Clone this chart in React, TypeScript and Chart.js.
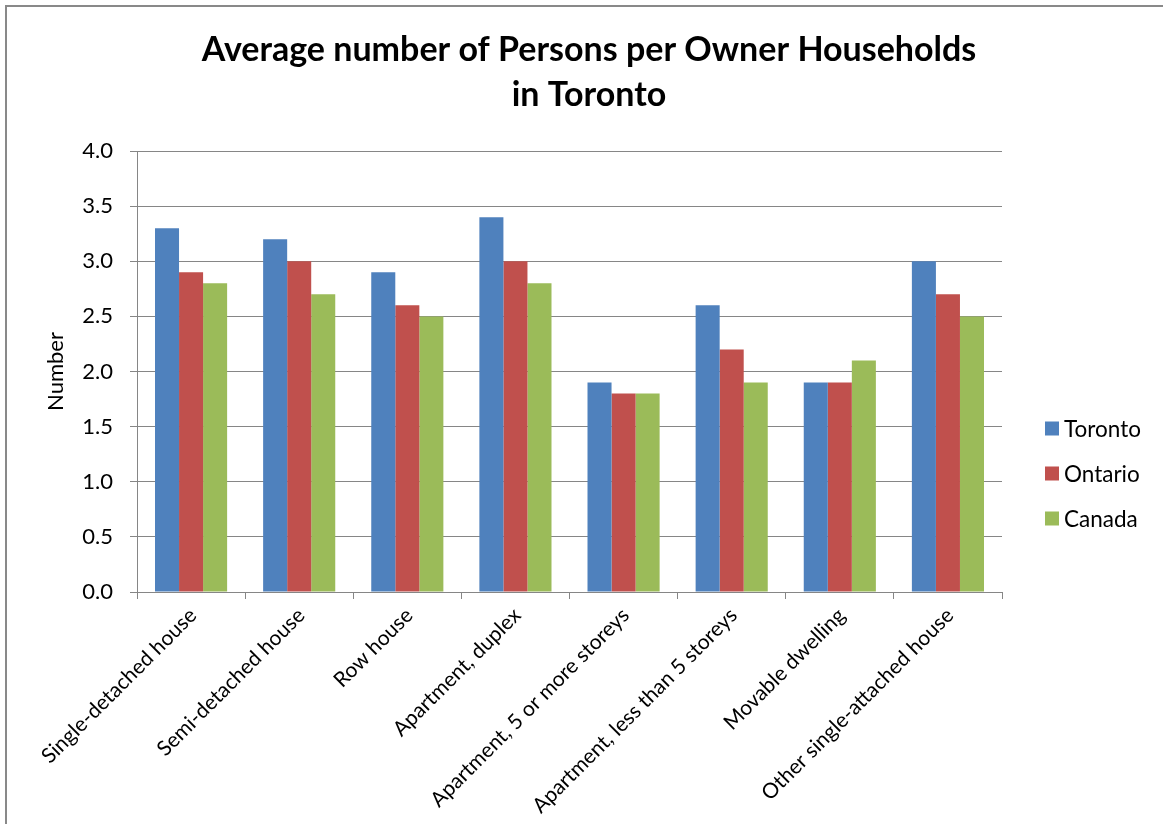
import React, { useEffect, useRef } from "react";
import { Chart, registerables } from "chart.js";

Chart.register(...registerables);

const categories = [
  "Single-detached house",
  "Semi-detached house",
  "Row house",
  "Apartment, duplex",
  "Apartment, 5 or more storeys",
  "Apartment, less than 5 storeys",
  "Movable dwelling",
  "Other single-attached house",
];

const toronto = [3.3, 3.2, 2.9, 3.4, 1.9, 2.6, 1.9, 3.0];
const ontario = [2.9, 3.0, 2.6, 3.0, 1.8, 2.2, 1.9, 2.7];
const canada = [2.8, 2.7, 2.5, 2.8, 1.8, 1.9, 2.1, 2.5];

const seriesNames = ["Toronto", "Ontario", "Canada"];
const seriesColors = ["#4F81BD", "#C0504D", "#9BBB59"];

const titleLines = ["Average number of Persons per Owner Households", "in Toronto"];
const yAxisTitle = "Number";

const FONT = "Lato, 'Open Sans', sans-serif";

const chromePlugin = {
  id: "chrome",
  afterDraw(chart: any) {
    const ctx = chart.ctx;
    ctx.save();
    // title
    ctx.fillStyle = "#000";
    ctx.font = `bold 34px ${FONT}`;
    ctx.textAlign = "center";
    ctx.textBaseline = "alphabetic";
    ctx.fillText(titleLines[0], 589, 61);
    ctx.fillText(titleLines[1], 589, 106);
    // legend
    const ys = [428.5, 473.5, 518.5];
    ctx.font = `22.5px ${FONT}`;
    ctx.textAlign = "left";
    ctx.textBaseline = "middle";
    chart.data.datasets.forEach((ds: any, i: number) => {
      ctx.fillStyle = ds.backgroundColor;
      ctx.fillRect(1045, ys[i] - 7, 14, 14);
      ctx.fillStyle = "#000";
      ctx.fillText(ds.label, 1064, ys[i] + 1);
    });
    ctx.restore();
  },
};

export default function App() {
  const ref = useRef<HTMLCanvasElement>(null);

  useEffect(() => {
    if (!ref.current) return;
    const chart = new Chart(ref.current, {
      type: "bar",
      data: {
        labels: categories,
        datasets: [toronto, ontario, canada].map((d, i) => ({
          label: seriesNames[i],
          data: d,
          backgroundColor: seriesColors[i],
          borderWidth: 0,
          categoryPercentage: 0.667,
          barPercentage: 1.0,
        })),
      },
      options: {
        animation: false,
        responsive: false,
        devicePixelRatio: 1,
        layout: { padding: { top: 151, left: 0, right: 161, bottom: 0 } },
        plugins: {
          legend: { display: false },
          title: { display: false },
          tooltip: { enabled: false },
        },
        scales: {
          x: {
            afterFit: (s: any) => {
              s.height = 232;
            },
            grid: {
              drawOnChartArea: false,
              drawTicks: true,
              tickLength: 7,
              color: "#868686",
              offset: true,
            },
            border: { color: "#868686", width: 1 },
            ticks: {
              color: "#000",
              font: { family: FONT, size: 21 },
              maxRotation: 45,
              minRotation: 45,
              autoSkip: false,
              padding: 4,
              labelOffset: 2,
            },
          },
          y: {
            min: 0,
            max: 4,
            afterFit: (s: any) => {
              s.width = 137;
            },
            ticks: {
              stepSize: 0.5,
              color: "#000",
              font: { family: FONT, size: 22 },
              padding: 17,
              callback: (v: any) => Number(v).toFixed(1),
            },
            grid: { color: "#868686", tickLength: 7, lineWidth: 1 },
            border: { color: "#868686", width: 1 },
            title: {
              display: true,
              text: yAxisTitle,
              color: "#000",
              font: { family: FONT, size: 22 },
              padding: { top: 43, bottom: 0 },
            },
          },
        },
      },
      plugins: [chromePlugin],
    });
    return () => chart.destroy();
  }, []);

  return (
    <div
      style={{
        position: "fixed",
        left: 0,
        top: 0,
        width: 1163,
        height: 824,
        overflow: "hidden",
        background: "#fff",
      }}
    >
      <div
        style={{
          position: "absolute",
          left: 5,
          top: 5,
          width: 1300,
          height: 1000,
          border: "2px solid #898989",
          boxSizing: "border-box",
        }}
      />
      <canvas
        ref={ref}
        width={1163}
        height={824}
        style={{ position: "absolute", left: 0, top: 0 }}
      />
    </div>
  );
}
